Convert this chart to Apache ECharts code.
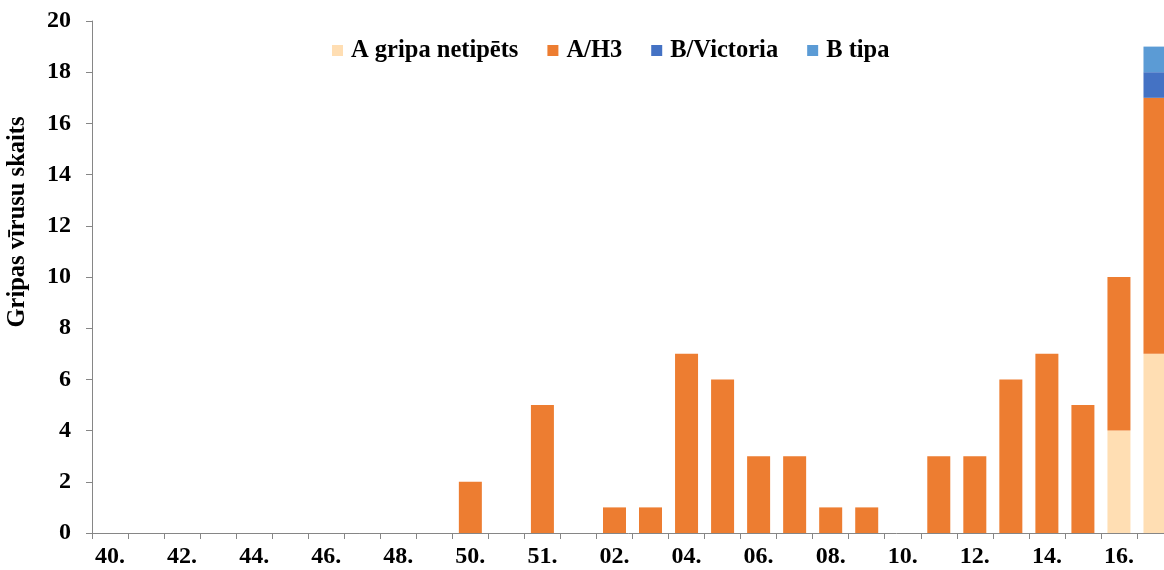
<!DOCTYPE html>
<html>
<head>
<meta charset="utf-8">
<script src="https://cdn.jsdelivr.net/npm/echarts@6/dist/echarts.min.js"></script>
<style>
  html, body { margin: 0; padding: 0; background: #fff; }
  #chart { width: 1164px; height: 570px; }
</style>
</head>
<body>
<div id="chart"></div>
<script>
// Week numbers along the x axis (every other one is labelled)
const weeks = ['40.', '41.', '42.', '43.', '44.', '45.', '46.', '47.', '48.', '49.',
  '50.', '51.', '51.', '01.', '02.', '03.', '04.', '05.', '06.', '07.',
  '08.', '09.', '10.', '11.', '12.', '13.', '14.', '15.', '16.', '17.'];

// Virus counts per week, one array per type
const aNetipets = [0, 0, 0, 0, 0, 0, 0, 0, 0, 0,
  0, 0, 0, 0, 0, 0, 0, 0, 0, 0,
  0, 0, 0, 0, 0, 0, 0, 0, 4, 7];
const aH3 = [0, 0, 0, 0, 0, 0, 0, 0, 0, 0,
  2, 0, 5, 0, 1, 1, 7, 6, 3, 3,
  1, 1, 0, 3, 3, 6, 7, 5, 6, 10];
const bVictoria = [0, 0, 0, 0, 0, 0, 0, 0, 0, 0,
  0, 0, 0, 0, 0, 0, 0, 0, 0, 0,
  0, 0, 0, 0, 0, 0, 0, 0, 0, 1];
const bTipa = [0, 0, 0, 0, 0, 0, 0, 0, 0, 0,
  0, 0, 0, 0, 0, 0, 0, 0, 0, 0,
  0, 0, 0, 0, 0, 0, 0, 0, 0, 1];

const seriesNames = ['A gripa netipēts', 'A/H3', 'B/Victoria', 'B tipa'];
const seriesColors = ['#FFDEB3', '#ED7D31', '#4472C4', '#5B9BD5'];
const seriesData = [aNetipets, aH3, bVictoria, bTipa];

const FONT = '"Liberation Serif", "Times New Roman", serif';
const AXIS_COLOR = '#868686';

const chart = echarts.init(document.getElementById('chart'), null, { renderer: 'canvas' });

chart.setOption({
  animation: false,
  backgroundColor: '#ffffff',
  grid: {
    left: 92,
    right: -9,
    top: 21,
    bottom: 37,
    containLabel: false,
    outerBoundsMode: 'none'
  },
  legend: {
    left: 327,
    top: 33,
    icon: 'rect',
    itemWidth: 11,
    itemHeight: 11,
    itemGap: 29,
    selectedMode: false,
    data: seriesNames,
    textStyle: {
      fontFamily: FONT,
      fontWeight: 'bold',
      fontSize: 24.5,
      color: '#000',
      padding: [0, 0, 0, 3]
    }
  },
  graphic: [{
    type: 'text',
    x: 18,
    y: 222,
    rotation: Math.PI / 2,
    style: {
      text: 'Gripas vīrusu skaits',
      fontFamily: FONT,
      fontWeight: 'bold',
      fontSize: 24.5,
      fill: '#000',
      align: 'center',
      verticalAlign: 'middle'
    }
  }],
  xAxis: {
    type: 'category',
    data: weeks,
    boundaryGap: true,
    axisLine: { show: true, lineStyle: { color: AXIS_COLOR, width: 1 } },
    axisTick: { show: true, interval: 0, length: 6, lineStyle: { color: AXIS_COLOR } },
    axisLabel: {
      interval: 1,
      margin: 12,
      fontFamily: FONT,
      fontWeight: 'bold',
      fontSize: 24,
      color: '#000'
    },
    splitLine: { show: false }
  },
  yAxis: {
    type: 'value',
    min: 0,
    max: 20,
    interval: 2,
    axisLine: { show: true, lineStyle: { color: AXIS_COLOR, width: 1 } },
    axisTick: { show: true, length: 6, lineStyle: { color: AXIS_COLOR } },
    axisLabel: {
      margin: 21,
      fontFamily: FONT,
      fontWeight: 'bold',
      fontSize: 24,
      color: '#000'
    },
    splitLine: { show: false }
  },
  series: seriesNames.map((name, i) => ({
    name: name,
    type: 'bar',
    stack: 'total',
    barWidth: 23,
    data: seriesData[i],
    itemStyle: { color: seriesColors[i] }
  }))
});
</script>
</body>
</html>
